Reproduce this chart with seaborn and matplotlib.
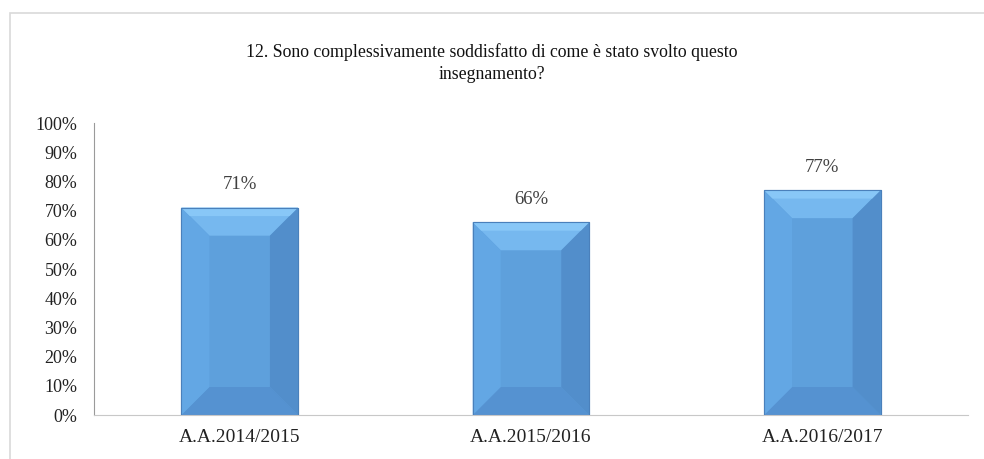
import numpy as np
import pandas as pd
import matplotlib
matplotlib.use('Agg')
from matplotlib import pyplot as plt
from matplotlib.patches import Polygon, Rectangle
from matplotlib.ticker import FixedLocator, FuncFormatter
import seaborn as sns

years = ['A.A.2014/2015', 'A.A.2015/2016', 'A.A.2016/2017']
values = [71, 66, 77]
title = '12. Sono complessivamente soddisfatto di come è stato svolto questo\ninsegnamento?'

sns.set_style('white')
plt.rcParams['font.family'] = ['Liberation Serif', 'DejaVu Serif']

df = pd.DataFrame({'anno': years, 'valore': values})

fig = plt.figure(figsize=(9.84, 4.59), dpi=100)
ax = fig.add_axes([94 / 984, 1 - 415 / 459, (968 - 94) / 984, (415 - 123) / 459])

face = '#5ea0dc'
sns.barplot(data=df, x='anno', y='valore', color=face, saturation=1, width=0.4,
            edgecolor='#4a80bb', linewidth=0.8, ax=ax)

ax.set_xlim(-0.5, 2.5)
ax.set_ylim(0, 100)
ax.set_yticks(np.arange(0, 101, 10))
ax.yaxis.set_major_formatter(FuncFormatter(lambda v, p: '%d%%' % v))
ax.set_xlabel('')
ax.set_ylabel('')

# bevel on each bar, built from the bar rectangle itself
px_x = ax.transData.transform((1, 0))[0] - ax.transData.transform((0, 0))[0]
px_y = ax.transData.transform((0, 1))[1] - ax.transData.transform((0, 0))[1]
depth = 28
for bar in ax.patches:
    x0, y0 = bar.get_x(), bar.get_y()
    x1, y1 = x0 + bar.get_width(), y0 + bar.get_height()
    dx = depth / px_x
    dy = min(depth / px_y, bar.get_height() / 2)
    parts = [
        ([(x0, y1), (x1, y1), (x1 - dx, y1 - dy), (x0 + dx, y1 - dy)], '#76b8ef'),
        ([(x0, y0), (x1, y0), (x1 - dx, y0 + dy), (x0 + dx, y0 + dy)], '#5592d1'),
        ([(x0, y0), (x0 + dx, y0 + dy), (x0 + dx, y1 - dy), (x0, y1)], '#63a7e4'),
        ([(x1, y0), (x1 - dx, y0 + dy), (x1 - dx, y1 - dy), (x1, y1)], '#528ecb'),
    ]
    for pts, c in parts:
        ax.add_patch(Polygon(pts, closed=True, facecolor=c, edgecolor='none', zorder=2.5))
    # lighter strip along the top edge
    ax.add_patch(Polygon([(x0, y1), (x1, y1), (x1 - dx * 0.3, y1 - dy * 0.3), (x0 + dx * 0.3, y1 - dy * 0.3)],
                         closed=True, facecolor='#88c7f7', edgecolor='none', zorder=2.55))
    ax.add_patch(Rectangle((x0, y0), x1 - x0, y1 - y0, facecolor='none',
                           edgecolor='#4a80bb', linewidth=0.8, zorder=2.6))
    ax.text(x0 + (x1 - x0) / 2, y1 + 23 / px_y, '%d%%' % round(y1), ha='center', va='center',
            fontsize=13.5, color='#404040')

for s in ['top', 'right']:
    ax.spines[s].set_visible(False)
ax.spines['left'].set_color('#9a9a9a')
ax.spines['bottom'].set_color('#c8c8c8')
ax.tick_params(axis='y', length=4, color='#9a9a9a', labelsize=13, labelcolor='#222222', pad=8)
ax.tick_params(axis='x', which='major', length=0, labelsize=14, labelcolor='#222222', pad=10)
ax.xaxis.set_minor_locator(FixedLocator([-0.5, 0.5, 1.5, 2.5]))
ax.tick_params(axis='x', which='minor', length=5, color='#c8c8c8', direction='out')

fig.text(0.5, 1 - 63 / 459, title, ha='center', va='center', fontsize=12.8,
         color='#111111', linespacing=1.45)

# chart area border
fig.patches.append(Rectangle((10 / 984, -0.1), 1.0, 1 - 13 / 459 + 0.1, transform=fig.transFigure,
                             facecolor='none', edgecolor='#d9d9d9', linewidth=1.2, zorder=0))

fig.savefig('out.png', dpi=100)
